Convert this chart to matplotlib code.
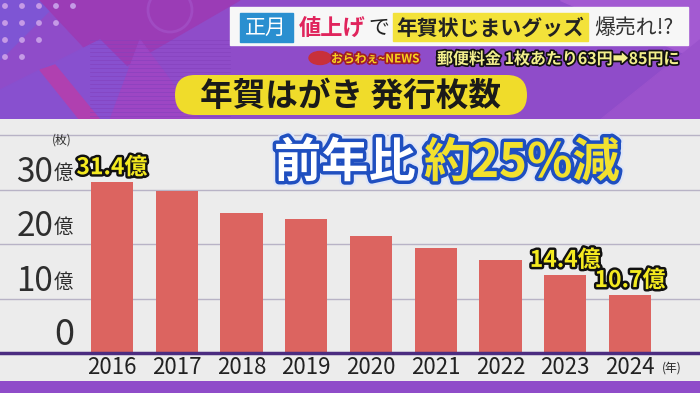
import matplotlib.pyplot as plt
import matplotlib.patheffects as pe
from matplotlib.patches import Rectangle, Polygon, FancyBboxPatch, Circle, Ellipse

# 年賀はがき 発行枚数 (億枚)
years = ["2016", "2017", "2018", "2019", "2020", "2021", "2022", "2023", "2024"]
issued = [31.4, 29.8, 25.6, 24.5, 21.4, 19.3, 17.0, 14.4, 10.7]
tick_vals = [0, 10, 20, 30]
tick_text = ["0", "10", "20", "30"]
grid_vals = [10, 20, 30, 40]
marked = [0, 7, 8]   # bars that get a value label

JP = ["Noto Sans CJK JP", "DejaVu Sans"]
plt.rcParams["font.family"] = JP

fig = plt.figure(figsize=(7, 3.93), dpi=100)

# ---- purple studio background ----
bg = fig.add_axes([0, 0, 1, 1])
bg.set_xlim(0, 700)
bg.set_ylim(393, 0)
bg.axis("off")
bg.add_patch(Rectangle((0, 0), 700, 393, color="#8f4cc9"))
bg.add_patch(Polygon([(0, 0), (60, 0), (0, 60)], color="#7e55d4"))
bg.add_patch(Polygon([(40, 0), (240, 0), (110, 75)], color="#9b3cb6"))
bg.add_patch(Polygon([(100, 40), (180, 120), (0, 120), (0, 90)], color="#8850cf"))
bg.add_patch(Polygon([(140, 40), (200, 120), (110, 120)], color="#9d46c4"))
bg.add_patch(Polygon([(560, 0), (700, 0), (700, 60)], color="#a35ad2"))
bg.add_patch(Polygon([(600, 120), (700, 40), (700, 120)], color="#9a52cc"))
bg.add_patch(Polygon([(40, 70), (55, 65), (100, 120), (80, 120)], color="#b040b0"))
for yy in range(40, 120, 4):
    bg.plot([90, 230], [yy, yy], color="#8240bb", lw=0.6, alpha=0.6)
for r in range(4):
    for c in range(5 - r):
        bg.add_patch(Circle((5 + c * 17, 6 + r * 17), 2.2, color="#c59ae6"))
bg.add_patch(Circle((170, 10), 22, fill=False, ec="#a04bc2", lw=2))

# ---- chart panel ----
ax = fig.add_axes([0, 12 / 393, 1, 262 / 393])
ax.set_facecolor("#ececec")
ax.set_xlim(-112 / 64.75, 588 / 64.75)
ax.set_ylim(-28 / 5.45, 234 / 5.45)
for side in ax.spines.values():
    side.set_visible(False)
ax.set_xticks([])
ax.set_yticks([])

for g in grid_vals:
    ax.axhline(g, color="#b8b3c6", lw=1, zorder=1)
ax.axhline(0, color="#4b2c80", lw=2.5, zorder=3)

ax.bar(range(len(years)), issued, width=0.65, color="#dc6460", zorder=2)

ytr = ax.get_yaxis_transform()
for v, t in zip(tick_vals, tick_text):
    if v == 0:
        ax.text(64 / 700, v + 3.3, t, transform=ytr, ha="center", va="center",
                fontsize=26, color="#2e2e2e")
    else:
        ax.text(53 / 700, v + 3.2, t, transform=ytr, ha="right", va="center",
                fontsize=24, color="#2e2e2e")
        ax.text(54 / 700, v + 3.0, "億", transform=ytr, ha="left", va="center",
                fontsize=14, color="#2e2e2e")
ax.text(62 / 700, 39.0, "(枚)", transform=ytr, ha="center", va="center",
        fontsize=8.5, color="#2e2e2e")

for i, yr in enumerate(years):
    ax.text(i, -2.75, yr, ha="center", va="center", fontsize=16, color="#222222")
ax.text(8.64, -2.75, "(年)", ha="center", va="center", fontsize=8.5, color="#222222")

outline = [pe.withStroke(linewidth=3.5, foreground="#111111")]
for i in marked:
    ax.text(i, issued[i] + 1.4, f"{issued[i]}億", ha="center", va="baseline",
            fontsize=16.5, fontweight="bold", color="#f4ea20",
            path_effects=outline)

# ---- overlay captions ----
ov = fig.add_axes([0, 0, 1, 1])
ov.set_xlim(0, 700)
ov.set_ylim(393, 0)
ov.axis("off")
ov.patch.set_alpha(0)

ov.add_patch(Rectangle((230, 7), 458, 38, color="#f7f7f7"))
ov.add_patch(Rectangle((240, 13), 53, 29, color="#2a8fd0"))
ov.text(266, 28, "正月", ha="center", va="center", fontsize=15, color="white")
ov.text(299, 28, "値上げ", ha="left", va="center", fontsize=16,
        fontweight="bold", color="#e0245c")
ov.text(368, 28, "で", ha="left", va="center", fontsize=15, color="#222222")
ov.add_patch(Rectangle((393, 13), 195, 28, color="#f3e23a"))
ov.text(396, 28, "年賀状じまいグッズ", ha="left", va="center", fontsize=15,
        fontweight="bold", color="#222222")
ov.text(594, 28, "爆売れ!?", ha="left", va="center", fontsize=15, color="#333333")

ov.add_patch(Ellipse((320, 58), 22, 13, color="#c8303a"))
ov.text(331, 59, "おらわぇ~NEWS", ha="left", va="center", fontsize=8.5,
        fontweight="bold", color="#f7d21c",
        path_effects=[pe.withStroke(linewidth=2.5, foreground="#a01c2c")])
ov.text(437, 59, "郵便料金 1枚あたり63円➡85円に", ha="left", va="center",
        fontsize=11.5, fontweight="bold", color="#f2ef8c",
        path_effects=[pe.withStroke(linewidth=2.5, foreground="#111111")])

ov.add_patch(FancyBboxPatch((175, 75), 352, 40,
                            boxstyle="round,pad=0,rounding_size=20",
                            fc="#f0dc2a", ec="none"))
ov.text(351, 96, "年賀はがき 発行枚数", ha="center", va="center", fontsize=23.5,
        fontweight="bold", color="#1a1a1a")

blue = [pe.withStroke(linewidth=8, foreground="#dfe6f7"),
        pe.withStroke(linewidth=5, foreground="#1f4fc0")]
ov.text(274, 163, "前年比", ha="left", va="center", fontsize=34,
        fontweight="bold", color="white", path_effects=blue)
ov.text(424, 163, "約25%減", ha="left", va="center", fontsize=34,
        fontweight="bold", color="#f2e12e", path_effects=blue)

fig.savefig("out.png", dpi=100)
